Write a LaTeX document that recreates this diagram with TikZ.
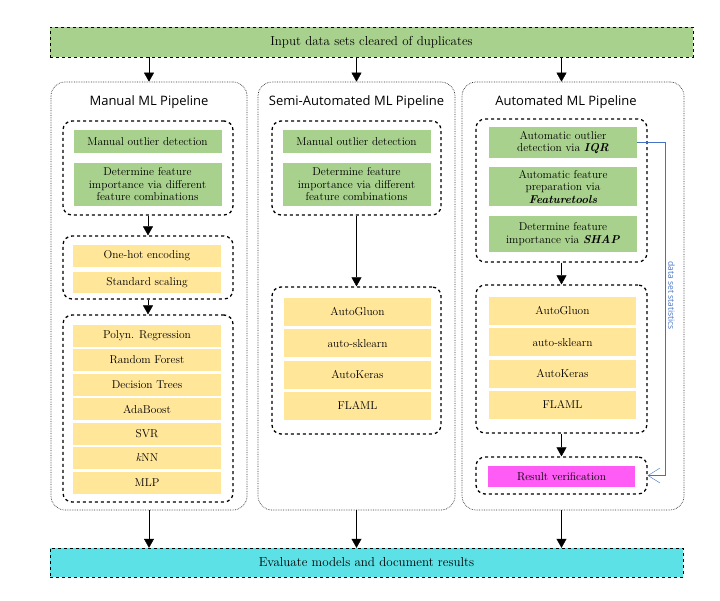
\documentclass[tikz,border=0pt]{standalone}
\usepackage{fontspec}
\newfontfamily\headfont{Open Sans}
\usetikzlibrary{arrows.meta}
\definecolor{prepgreen}{HTML}{A9D18E}
\definecolor{modelyellow}{HTML}{FFE699}
\definecolor{verpink}{HTML}{FF5CF5}
\definecolor{evalcyan}{HTML}{5CE1E6}
\definecolor{statblue}{HTML}{4472C4}
\begin{document}
\begin{tikzpicture}[x=1pt,y=-1pt,
    bar/.style={draw,dashed,thin,inner sep=0pt,font=\fontsize{13}{15}\selectfont},
    column/.style={draw=black!80,densely dotted,line width=0.7pt,rounded corners=14pt,inner sep=0pt},
    group/.style={draw,dashed,line width=1.3pt,rounded corners=9pt,inner sep=0pt},
    title/.style={font=\headfont\fontsize{13}{15}\selectfont},
    box/.style={minimum width=148pt,inner sep=1pt,align=center,font=\fontsize{11.4}{12.5}\selectfont},
    prep/.style={box,fill=prepgreen},
    model/.style={box,fill=modelyellow},
    arr/.style={-{Triangle[width=10pt,length=9pt]},thin}]
    \useasboundingbox (0,0) rectangle (720,600);
    \node[bar,fill=prepgreen,minimum width=643pt,minimum height=30pt] (input) at (371.5,42) {Input data sets cleared of duplicates};
    \node[bar,fill=evalcyan,minimum width=633pt,minimum height=29pt] (evaluate) at (366.5,562.5) {Evaluate models and document results};
    \node[column,minimum width=196pt,minimum height=428pt] (manual) at (149,296) {};
    \node[column,minimum width=197pt,minimum height=428pt] (semi) at (356.5,296) {};
    \node[column,minimum width=222pt,minimum height=428pt] (auto) at (573,296) {};
    \node[title] (mtitle) at (149,102) {Manual ML Pipeline};
    \node[title] (stitle) at (356.5,102) {Semi-Automated ML Pipeline};
    \node[title] (atitle) at (566,102) {Automated ML Pipeline};
    \node[group,minimum width=170pt,minimum height=94pt] (mprep) at (148,168) {};
    \node[group,minimum width=170pt,minimum height=63pt] (menc) at (148,267.5) {};
    \node[group,minimum width=170pt,minimum height=187pt] (mmod) at (148,408.5) {};
    \node[group,minimum width=169pt,minimum height=94pt] (sprep) at (356.5,168) {};
    \node[group,minimum width=169pt,minimum height=147pt] (smod) at (356.5,360.5) {};
    \node[group,minimum width=171pt,minimum height=143pt] (aprep) at (561.5,190.5) {};
    \node[group,minimum width=171pt,minimum height=148pt] (amod) at (561.5,359) {};
    \node[group,minimum width=171pt,minimum height=37pt] (aver) at (561.5,475.5) {};
    \node[prep,minimum height=23pt] (mout) at (147.5,141.5) {Manual outlier detection};
    \node[prep,minimum height=43pt] (mimp) at (147.5,184.5) {Determine feature\\importance via different\\feature combinations};
    \node[prep,minimum height=23pt] (sout) at (356.5,141.5) {Manual outlier detection};
    \node[prep,minimum height=43pt] (simp) at (356.5,184.5) {Determine feature\\importance via different\\feature combinations};
    \node[prep,minimum height=31pt] (iqr) at (563,142.5) {Automatic outlier\\detection via \textbf{\textit{IQR}}};
    \node[prep,minimum height=39pt] (feat) at (563,186.5) {Automatic feature\\preparation via\\\textbf{\textit{Featuretools}}};
    \node[prep,minimum height=36pt] (shap) at (563,234) {Determine feature\\importance via \textbf{\textit{SHAP}}};
    \node[model,minimum height=22pt] (onehot) at (147,256) {One-hot encoding};
    \node[model,minimum height=21pt] (scaling) at (147,282.5) {Standard scaling};
    \foreach \name [count=\i] in {Polyn. Regression,Random Forest,Decision Trees,AdaBoost,SVR,\textit{k}NN,MLP}
        \node[model,minimum height=22pt] (mm\i) at (147,{335.5+24.5*(\i-1)}) {\name};
    \foreach \name [count=\i] in {AutoGluon,auto-sklearn,AutoKeras,FLAML} {
        \node[model,minimum width=147pt,minimum height=28pt] (sm\i) at (357.5,{312+31.3*(\i-1)}) {\name};
        \node[model,minimum width=147pt,minimum height=28pt] (am\i) at (562.5,{311+31.3*(\i-1)}) {\name};
    }
    \node[box,fill=verpink,minimum width=147pt,minimum height=21pt] (result) at (561.5,476.5) {Result verification};
    \draw[arr] (manual.north |- input.south) -- (manual.north);
    \draw[arr] (semi.north |- input.south) -- (semi.north);
    \draw[arr] (aprep.north |- input.south) -- (aprep.north |- auto.north);
    \draw[arr] (mprep) -- (menc);
    \draw[arr] (menc) -- (mmod);
    \draw[arr] (sprep) -- (smod);
    \draw[arr] (aprep) -- (amod);
    \draw[arr] (amod) -- (aver);
    \draw[arr] (manual.south) -- (manual.south |- evaluate.north);
    \draw[arr] (semi.south) -- (semi.south |- evaluate.north);
    \draw[arr] (aver.south |- auto.south) -- (aver.south |- evaluate.north);
    \coordinate (bend) at (665,142.5);
    \draw[statblue,thin,-{Straight Barb[length=12pt,width=15pt]}] (iqr.east) -- (bend) |- (aver.east)
        node[pos=0.23,rotate=-90,anchor=south,inner sep=3pt,font=\headfont\fontsize{8.5}{10}\selectfont] (stats) {data set statistics};
\end{tikzpicture}
\end{document}
